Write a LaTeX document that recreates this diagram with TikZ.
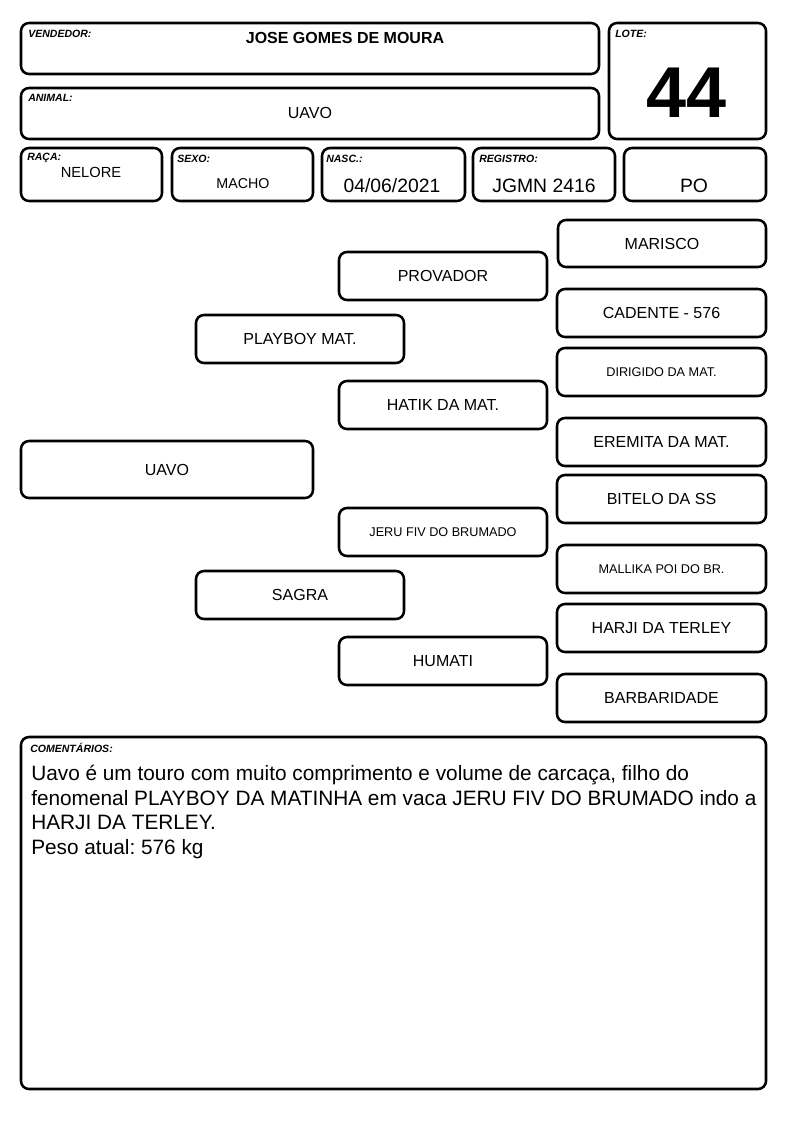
\documentclass[tikz,border=0pt]{standalone}
\usepackage{fontspec}
\setmainfont{Liberation Sans}
\usetikzlibrary{calc}
\frenchspacing
\tikzset{
  box/.style={draw=black, line width=1.9pt, rounded corners=6pt},
  lbl/.style={anchor=north west, inner sep=0pt, font=\fontsize{7.9}{9}\selectfont\bfseries\itshape},
  ped/.style={font=\fontsize{12}{14}\selectfont},
  peds/.style={font=\fontsize{9.5}{11}\selectfont},
}
% #1 name, #2 font style, #3 x1, #4 y1, #5 x2, #6 y2, #7 text
\newcommand\pbox[7]{\draw[box] (#3,#4) rectangle (#5,#6);
  \node[#2, inner sep=0pt] (#1) at ($(#3,#4)!0.5!(#5,#6)$) {#7};}
\begin{document}
\begin{tikzpicture}[x=0.75pt, y=-0.75pt]
\useasboundingbox (0,0) rectangle (794,1123);
% header
\draw[box] (21,23) rectangle (599,74);
\node[lbl] (lvend) at (28,30) {VENDEDOR:};
\node[font=\fontsize{12}{14}\selectfont\bfseries, inner sep=0pt] (vend) at (345,38) {JOSE GOMES DE MOURA};
\draw[box] (21,88) rectangle (599,139);
\node[lbl] (lanim) at (28,94) {ANIMAL:};
\node[font=\fontsize{12}{14}\selectfont, inner sep=0pt] (anim) at (310,113) {UAVO};
\draw[box] (609,23) rectangle (766,139);
\node[lbl] (llote) at (615,30) {LOTE:};
\node[font=\fontsize{54}{60}\selectfont\bfseries, inner sep=0pt] (lote) at (687,93) {44};
% row 3
\draw[box] (21,148) rectangle (162,201);
\node[lbl] (lraca) at (27,153) {RAÇA:};
\node[font=\fontsize{11}{13}\selectfont, inner sep=0pt] (raca) at (91,172) {NELORE};
\draw[box] (172,148) rectangle (313,201);
\node[lbl] (lsexo) at (177,155) {SEXO:};
\node[font=\fontsize{10.7}{13}\selectfont, inner sep=0pt] (sexo) at (243,184) {MACHO};
\draw[box] (322,148) rectangle (465,201);
\node[lbl] (lnasc) at (326,155) {NASC.:};
\node[font=\fontsize{14.5}{17}\selectfont, inner sep=0pt] (nasc) at (392,186) {04/06/2021};
\draw[box] (473,148) rectangle (615,201);
\node[lbl] (lreg) at (479,155) {REGISTRO:};
\node[font=\fontsize{14.5}{17}\selectfont, inner sep=0pt] (reg) at (544,186) {JGMN 2416};
\draw[box] (624,148) rectangle (766,201);
\node[font=\fontsize{14.5}{17}\selectfont, inner sep=0pt] (po) at (694,186) {PO};
% pedigree
\pbox{marisco}{ped}{558}{220}{766}{267}{MARISCO}
\pbox{provador}{ped}{339}{252}{547}{300}{PROVADOR}
\pbox{cadente}{ped}{557}{289}{766}{337}{CADENTE - 576}
\pbox{playboy}{ped}{196}{315}{404}{363}{PLAYBOY MAT.}
\pbox{dirigido}{peds}{557}{348}{766}{396}{DIRIGIDO DA MAT.}
\pbox{hatik}{ped}{339}{381}{547}{429}{HATIK DA MAT.}
\pbox{eremita}{ped}{557}{418}{766}{466}{EREMITA DA MAT.}
\pbox{uavo}{ped}{21}{441}{313}{498}{UAVO}
\pbox{bitelo}{ped}{557}{475}{766}{523}{BITELO DA SS}
\pbox{jeru}{peds}{339}{508}{547}{556}{JERU FIV DO BRUMADO}
\pbox{mallika}{peds}{557}{545}{766}{593}{MALLIKA POI DO BR.}
\pbox{sagra}{ped}{196}{571}{404}{619}{SAGRA}
\pbox{harji}{ped}{557}{604}{766}{652}{HARJI DA TERLEY}
\pbox{humati}{ped}{339}{637}{547}{685}{HUMATI}
\pbox{barb}{ped}{557}{674}{766}{722}{BARBARIDADE}
% comments
\draw[box] (21,737) rectangle (766,1089);
\node[lbl] (lcom) at (30,743) {COMENTÁRIOS:};
\node[anchor=north west, inner sep=0pt, align=left, font=\fontsize{15.6}{18.4}\selectfont] (com) at (31,765)
 {Uavo é um touro com muito comprimento e volume de carcaça, filho do\\
  fenomenal PLAYBOY DA MATINHA em vaca JERU FIV DO BRUMADO indo a\\
  HARJI DA TERLEY.\\
  Peso atual: 576 kg};
\end{tikzpicture}
\end{document}
